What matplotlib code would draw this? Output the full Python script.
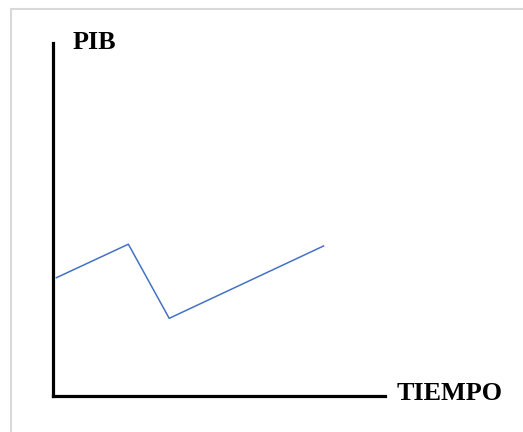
import matplotlib.pyplot as plt
from matplotlib.patches import Rectangle

# datos (unidades arbitrarias)
tiempo = [0.1, 2.27, 3.5, 8.15]
pib = [3.35, 4.3, 2.2, 4.25]

W, H = 523, 432
fig = plt.figure(figsize=(W / 100, H / 100), dpi=100)

# borde gris del cuadro
fig.patches.append(Rectangle((11 / W, -0.1), 1.2, (H - 9) / H + 0.1, transform=fig.transFigure,
                             fill=False, edgecolor='#d9d9d9', linewidth=1.5))

ax = fig.add_axes([53 / W, (H - 396) / H, (385 - 53) / W, (396 - 43) / H])
ax.plot(tiempo, pib, color='#4472C4', linewidth=1.1)
ax.set_xlim(0, 10)
ax.set_ylim(0, 10)
ax.set_xticks([])
ax.set_yticks([])
ax.patch.set_visible(False)
for s in ['top', 'right']:
    ax.spines[s].set_visible(False)
for s in ['left', 'bottom']:
    ax.spines[s].set_linewidth(2.3)
    ax.spines[s].set_color('black')
    ax.spines[s].set_capstyle('projecting')

font = dict(family='Liberation Serif', weight='bold', fontsize=18.8)
fig.text(73 / W, (H - 49) / H, 'PIB', ha='left', va='baseline', **font)
fig.text(397 / W, (H - 400) / H, 'TIEMPO', ha='left', va='baseline', **font)

fig.savefig('out.png', dpi=100)
